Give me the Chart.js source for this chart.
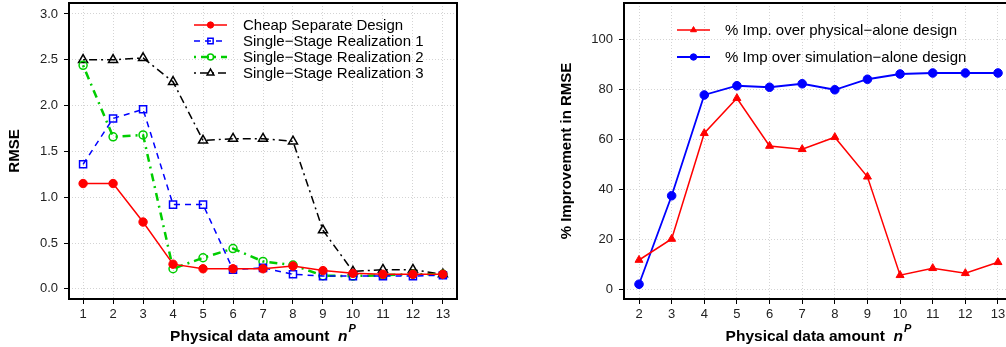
<!DOCTYPE html>
<html>
<head>
<meta charset="utf-8">
<script src="https://cdn.jsdelivr.net/npm/chart.js@4.4.0/dist/chart.umd.min.js"></script>
<style>
html, body { margin: 0; padding: 0; background: #fff; overflow: hidden; width: 1006px; height: 347px; }
#left { position: absolute; left: 0; top: 0; width: 500px; height: 347px; }
#right { position: absolute; left: 500px; top: 0; width: 560px; height: 347px; }
</style>
</head>
<body>
<div id="left"><canvas id="chartLeft"></canvas></div>
<div id="right"><canvas id="chartRight"></canvas></div>
<script>
"use strict";
// data
const nLeft = [1, 2, 3, 4, 5, 6, 7, 8, 9, 10, 11, 12, 13];
const cheapSeparate = [1.15, 1.15, 0.73, 0.27, 0.22, 0.22, 0.22, 0.25, 0.20, 0.17, 0.16, 0.16, 0.16];
const realization1 = [1.36, 1.86, 1.96, 0.92, 0.92, 0.21, 0.23, 0.16, 0.14, 0.14, 0.14, 0.14, 0.15];
const realization2 = [2.44, 1.66, 1.68, 0.22, 0.34, 0.44, 0.30, 0.26, 0.145, 0.14, 0.15, 0.16, 0.16];
const realization3 = [2.50, 2.50, 2.52, 2.26, 1.62, 1.64, 1.64, 1.61, 0.64, 0.19, 0.21, 0.21, 0.16];
const rmseTicks = [0, 0.5, 1.0, 1.5, 2.0, 2.5, 3.0];

const nRight = [2, 3, 4, 5, 6, 7, 8, 9, 10, 11, 12, 13];
const impPhysical = [11.6, 20.0, 62.3, 76.3, 57.2, 55.9, 60.7, 44.9, 5.5, 8.3, 6.3, 10.7];
const impSimulation = [1.9, 37.3, 77.6, 81.3, 80.7, 82.1, 79.7, 83.9, 86.0, 86.4, 86.4, 86.4];
const impTicks = [0, 20, 40, 60, 80, 100];

const FONT = '"Liberation Sans", Arial, sans-serif';

function pts(xs, ys) {
    return xs.map((x, i) => ({ x: x, y: ys[i] }));
}

// box around plot area
const framePlugin = {
    id: 'frame',
    afterDraw(chart) {
        const a = chart.chartArea, ctx = chart.ctx;
        ctx.save();
        ctx.strokeStyle = '#000';
        ctx.lineWidth = 2;
        ctx.strokeRect(a.left, a.top, a.right - a.left, a.bottom - a.top);
        ctx.restore();
    }
};

// x title with superscript
const xTitlePlugin = {
    id: 'xTitle',
    afterDraw(chart) {
        const ctx = chart.ctx, a = chart.chartArea;
        const main = 'Physical data amount  ';
        ctx.save();
        ctx.fillStyle = '#000';
        ctx.textBaseline = 'alphabetic';
        ctx.textAlign = 'left';
        ctx.font = 'bold 15.5px ' + FONT;
        const w1 = ctx.measureText(main).width;
        ctx.font = 'italic bold 15.5px ' + FONT;
        const w2 = ctx.measureText('n').width;
        ctx.font = 'italic bold 11px ' + FONT;
        const w3 = ctx.measureText('P').width;
        let x = (a.left + a.right) / 2 - (w1 + w2 + w3 + 1) / 2;
        const y = 341;
        ctx.font = 'bold 15.5px ' + FONT;
        ctx.fillText(main, x, y);
        x += w1;
        ctx.font = 'italic bold 15.5px ' + FONT;
        ctx.fillText('n', x, y);
        x += w2 + 1;
        ctx.font = 'italic bold 11px ' + FONT;
        ctx.fillText('P', x, y - 9);
        ctx.restore();
    }
};

// legend with line + marker samples
const lineLegendPlugin = {
    id: 'lineLegend',
    afterDraw(chart, args, opts) {
        const ctx = chart.ctx;
        chart.data.datasets.forEach((ds, i) => {
            const y = opts.y + i * opts.dy;
            ctx.save();
            ctx.strokeStyle = ds.borderColor;
            ctx.lineWidth = ds.borderWidth;
            ctx.setLineDash(ds.borderDash || []);
            ctx.beginPath();
            ctx.moveTo(opts.x, y);
            ctx.lineTo(opts.x + opts.len, y);
            ctx.stroke();
            ctx.setLineDash([]);
            ctx.fillStyle = ds.pointBackgroundColor;
            ctx.strokeStyle = ds.borderColor;
            ctx.lineWidth = ds.pointBorderWidth;
            Chart.helpers.drawPoint(ctx, {
                pointStyle: ds.pointStyle,
                radius: ds.pointRadius * 0.75,
                rotation: 0,
                borderWidth: ds.pointBorderWidth
            }, opts.x + opts.len / 2, y);
            ctx.fillStyle = '#000';
            ctx.font = '15px ' + FONT;
            ctx.textBaseline = 'middle';
            ctx.textAlign = 'left';
            ctx.fillText(ds.label, opts.textX, y + 1);
            ctx.restore();
        });
    }
};

function makeScales(xMin, xMax, xTicks, yMin, yMax, yTicks, yTitle, yWidth) {
    const grid = {
        color: '#d4d4d4',
        lineWidth: 1,
        drawTicks: true,
        tickLength: 5,
        tickColor: '#000',
        tickWidth: 1,
        tickBorderDash: []
    };
    const border = { display: false, dash: [1, 2] };
    return {
        x: {
            type: 'linear',
            min: xMin,
            max: xMax,
            afterBuildTicks: s => { s.ticks = xTicks.map(v => ({ value: v })); },
            afterFit: s => { s.height = 48; s.paddingLeft = 0; s.paddingRight = 0; },
            grid: grid,
            border: border,
            ticks: { color: '#222', font: { family: FONT, size: 13 }, padding: 3, maxRotation: 0, autoSkip: false },
            title: { display: false }
        },
        y: {
            type: 'linear',
            min: yMin,
            max: yMax,
            afterBuildTicks: s => { s.ticks = yTicks.map(v => ({ value: v })); },
            afterFit: s => { s.width = yWidth; s.paddingTop = 0; s.paddingBottom = 0; },
            grid: grid,
            border: border,
            ticks: {
                color: '#222', font: { family: FONT, size: 13 }, padding: 6,
                callback: v => (yMax < 10 ? v.toFixed(1) : String(v))
            },
            title: {
                display: true, text: yTitle, color: '#000',
                font: { family: FONT, size: 15, weight: 'bold' },
                padding: { top: 6, bottom: 0 }
            }
        }
    };
}

function DrawLeft() {
    const data = {
        datasets: [{
            label: 'Cheap Separate Design',
            data: pts(nLeft, cheapSeparate),
            borderColor: '#ff0000',
            borderWidth: 1.5,
            pointStyle: 'circle',
            pointRadius: 4.2,
            pointBackgroundColor: '#ff0000',
            pointBorderWidth: 1
        }, {
            label: 'Single\u2212Stage Realization 1',
            data: pts(nLeft, realization1),
            borderColor: '#0000ff',
            borderWidth: 1.5,
            borderDash: [6, 5],
            pointStyle: 'rect',
            pointRadius: 5,
            pointBackgroundColor: 'rgba(0,0,0,0)',
            pointBorderWidth: 1.5
        }, {
            label: 'Single\u2212Stage Realization 2',
            data: pts(nLeft, realization2),
            borderColor: '#00cd00',
            borderWidth: 2.5,
            borderDash: [2, 5, 8, 5],
            pointStyle: 'circle',
            pointRadius: 4,
            pointBackgroundColor: 'rgba(0,0,0,0)',
            pointBorderWidth: 1.5
        }, {
            label: 'Single\u2212Stage Realization 3',
            data: pts(nLeft, realization3),
            borderColor: '#000000',
            borderWidth: 1.5,
            borderDash: [2, 4, 8, 4],
            pointStyle: 'triangle',
            pointRadius: 5.2,
            pointBackgroundColor: 'rgba(0,0,0,0)',
            pointBorderWidth: 1.5
        }]
    };
    new Chart(document.getElementById('chartLeft'), {
        type: 'line',
        data: data,
        options: {
            responsive: true,
            maintainAspectRatio: false,
            animation: false,
            layout: { autoPadding: false, padding: { left: 0, right: 43, top: 3, bottom: 0 } },
            scales: makeScales(0.53, 13.47, nLeft, -0.11, 3.12, rmseTicks, 'RMSE', 69),
            plugins: {
                legend: { display: false },
                tooltip: { enabled: false },
                lineLegend: { x: 194, len: 33, textX: 243, y: 25, dy: 16 }
            }
        },
        plugins: [framePlugin, xTitlePlugin, lineLegendPlugin]
    });
}

function DrawRight() {
    const data = {
        datasets: [{
            label: '% Imp. over physical\u2212alone design',
            data: pts(nRight, impPhysical),
            borderColor: '#ff0000',
            borderWidth: 1.5,
            pointStyle: 'triangle',
            pointRadius: 4.6,
            pointBackgroundColor: '#ff0000',
            pointBorderWidth: 1
        }, {
            label: '% Imp over simulation\u2212alone design',
            data: pts(nRight, impSimulation),
            borderColor: '#0000ff',
            borderWidth: 1.8,
            pointStyle: 'circle',
            pointRadius: 4.3,
            pointBackgroundColor: '#0000ff',
            pointBorderWidth: 1
        }]
    };
    new Chart(document.getElementById('chartRight'), {
        type: 'line',
        data: data,
        options: {
            responsive: true,
            maintainAspectRatio: false,
            animation: false,
            layout: { autoPadding: false, padding: { left: 52, right: 47, top: 3, bottom: 0 } },
            scales: makeScales(1.54, 13.46, nRight, -4, 114.4, impTicks, '% Improvement in RMSE', 72),
            plugins: {
                legend: { display: false },
                tooltip: { enabled: false },
                lineLegend: { x: 177, len: 33, textX: 225, y: 30, dy: 27 }
            }
        },
        plugins: [framePlugin, xTitlePlugin, lineLegendPlugin]
    });
}

DrawLeft();
DrawRight();
</script>
</body>
</html>
